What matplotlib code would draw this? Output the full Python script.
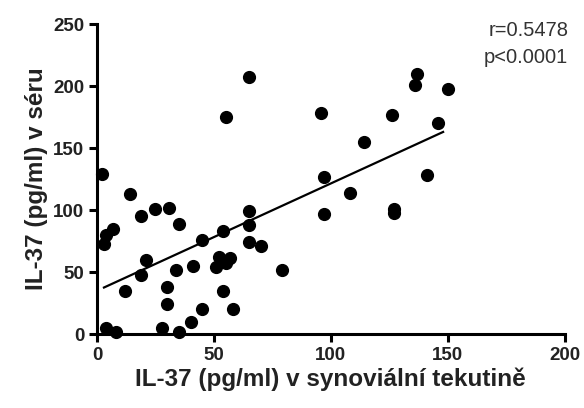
import numpy as np
import matplotlib.pyplot as plt

plt.rcParams['font.family'] = ['Liberation Sans', 'DejaVu Sans']

# IL-37 v synovialni tekutine (x) a v seru (y), pg/ml
synovial = [65, 55, 96, 2, 97, 137, 136, 150, 126, 146, 114, 141, 108, 97, 127, 127,
            14, 19, 25, 31, 35, 7, 4, 3, 65, 65, 54, 45, 65, 70, 21, 19, 34, 41,
            52, 57, 51, 55, 79, 12, 30, 30, 54, 45, 58, 40, 28, 35, 4, 8]
serum = [207, 175, 178, 129, 127, 210, 201, 198, 177, 170, 155, 128, 114, 97, 101, 98,
         113, 95, 101, 102, 89, 85, 80, 73, 99, 88, 83, 76, 74, 71, 60, 48, 52, 55,
         62, 61, 54, 57, 52, 35, 38, 24, 35, 20, 20, 10, 5, 2, 5, 2]

r_text = "r=0.5478"
p_text = "p<0.0001"

# regression line
line_x = [3, 148]
intercept = 35.0
slope = 0.865

fig = plt.figure(figsize=(5.84, 4.08), dpi=100)
ax = fig.add_axes([0.166, 0.181, 0.801, 0.760])

ax.scatter(synovial, serum, s=72, color='black', zorder=3, clip_on=False)
lx = np.array(line_x)
ax.plot(lx, intercept + slope * lx, color='black', lw=1.6, zorder=2)

ax.set_xlim(0, 200)
ax.set_ylim(0, 250)
ax.set_xticks([0, 50, 100, 150, 200])
ax.set_yticks([0, 50, 100, 150, 200, 250])

for side in ['top', 'right']:
    ax.spines[side].set_visible(False)
for side in ['left', 'bottom']:
    ax.spines[side].set_linewidth(2.2)
ax.tick_params(width=2.2, length=6, labelsize=13.5, pad=3)
for lab in ax.get_xticklabels() + ax.get_yticklabels():
    lab.set_fontweight('bold')
    lab.set_color('#222222')

ax.set_xlabel("IL-37 (pg/ml) v synoviální tekutině", fontsize=17.5, fontweight='bold',
              color='#222222', labelpad=3)
ax.set_ylabel("IL-37 (pg/ml) v séru", fontsize=17.5, fontweight='bold',
              color='#222222', labelpad=4)

fig.text(0.973, 0.948, r_text, ha='right', va='top', fontsize=14.5, color='#333333')
fig.text(0.973, 0.882, p_text, ha='right', va='top', fontsize=14.5, color='#333333')

fig.savefig("out.png", dpi=100)
